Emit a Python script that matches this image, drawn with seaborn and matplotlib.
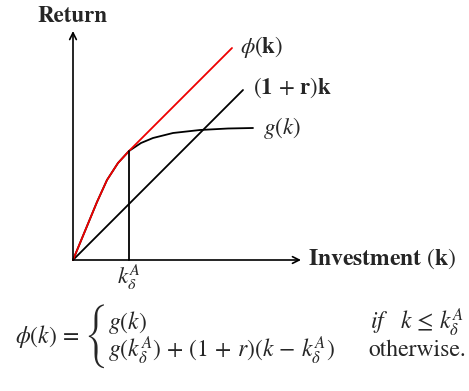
"""Borrowing-augmented return function phi(k) vs g(k) and (1+r)k."""
import matplotlib
matplotlib.use("Agg")
import matplotlib.pyplot as plt
import pandas as pd
import seaborn as sns

# data (arbitrary units, origin at the axes corner)
K_DELTA = 56
g_k = [0, 24, 34, 45, 56, 68, 80, 100, 127, 155, 180]
g_val = [0, 58, 80, 97, 109, 117, 122, 127, 130, 131.5, 132]
phi_k = [0, 24, 34, 45, 56, 159]
phi_val = [0, 58, 80, 97, 109, 212]
lin_k = [0, 170]
lin_val = [0, 170]

sns.set_theme(style="white")
plt.rcParams["font.family"] = ["STIXGeneral", "DejaVu Serif"]
plt.rcParams["mathtext.fontset"] = "stix"

curves = pd.concat([
    pd.DataFrame({"k": g_k, "ret": g_val, "curve": "g"}),
    pd.DataFrame({"k": phi_k, "ret": phi_val, "curve": "phi"}),
    pd.DataFrame({"k": lin_k, "ret": lin_val, "curve": "lin"}),
])

fig = plt.figure(figsize=(4.69, 3.91), dpi=100)
ax = fig.add_axes([0, 0, 1, 1])
ax.set_xlim(-73, 396)
ax.set_ylim(-131, 260)
ax.axis("off")

sns.lineplot(data=curves, x="k", y="ret", hue="curve", ax=ax, sort=False,
             palette={"g": "black", "phi": "#ee0000", "lin": "black"},
             hue_order=["g", "lin", "phi"], lw=1.3, legend=False)

# axes with arrow heads
arrow = dict(arrowstyle="->", lw=1.2, color="black", shrinkA=0, shrinkB=0,
             mutation_scale=12)
ax.annotate("", xy=(228, 0), xytext=(0, 0), arrowprops=arrow)
ax.annotate("", xy=(0, 229), xytext=(0, 0), arrowprops=arrow)
ax.plot([K_DELTA, K_DELTA], [0, 109], color="black", lw=1.3)

FS = 16.5
ax.text(-1, 243, "Return", fontsize=FS, fontweight="bold", ha="center", va="center")
ax.text(235, 1, r"Investment $(\mathbf{k})$", fontsize=FS + 0.5, fontweight="bold",
        ha="left", va="center")
ax.text(167, 213, r"$\phi(\mathbf{k})$", fontsize=FS, ha="left", va="center")
ax.text(180, 172, r"$(\mathbf{1}\,+\,\mathbf{r})\mathbf{k}$", fontsize=FS,
        ha="left", va="center")
ax.text(190, 132, r"$g(k)$", fontsize=FS, ha="left", va="center")
ax.text(K_DELTA, -17, r"$k_\delta^A$", fontsize=FS, ha="center", va="center")

# piecewise definition below the chart
FF = 17
ax.text(-58, -76, r"$\phi(k)\,=\,$", fontsize=FF, ha="left", va="center")
ax.text(35, -76, "{", fontsize=19, family="STIXSizeThreeSym",
        ha="right", va="center")
ax.text(35, -62, r"$g(k)$", fontsize=FF, ha="left", va="center")
ax.text(297, -62, r"$if\ \ \ k\,\leq\, k_\delta^A$", fontsize=FF, ha="left",
        va="center")
ax.text(35, -90, r"$g(k_\delta^A)\,+\,(1\,+\,r)(k\,-\,k_\delta^A)$", fontsize=FF,
        ha="left", va="center")
ax.text(295, -90, "otherwise.", fontsize=FF, ha="left", va="center")

fig.savefig("out.png", dpi=100)
plt.close(fig)
